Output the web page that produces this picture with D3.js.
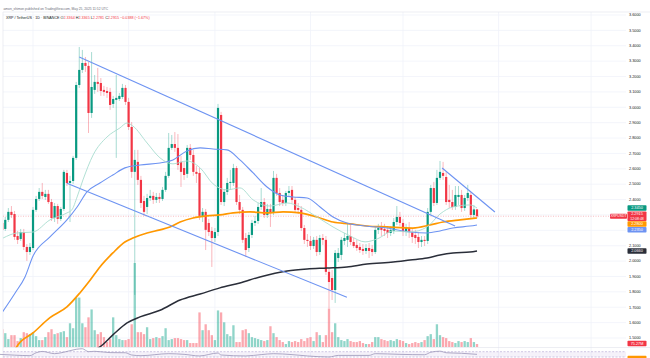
<!DOCTYPE html>
<html>
<head>
<meta charset="utf-8">
<script src="https://cdn.jsdelivr.net/npm/d3@7"></script>
<style>
  html, body { margin: 0; padding: 0; background: #fff; }
  svg { display: block; font-family: "Liberation Sans", Arial, sans-serif; }
</style>
</head>
<body>
<div id="chart"></div>
<script>
// XRP / TetherUS daily, 2024-12-21 .. 2025-05-25
const startDate = "2024-12-21";

const openP = [2.280,2.248,2.209,2.268,2.320,2.306,2.163,2.144,2.189,2.092,
  2.059,2.085,2.333,2.404,2.450,2.417,2.437,2.384,2.280,2.358,
  2.274,2.339,2.573,2.508,2.521,2.671,3.145,3.243,3.288,3.269,
  2.963,3.113,3.165,3.158,3.113,3.106,3.100,3.022,3.048,3.054,
  3.067,3.126,3.035,2.872,2.580,2.645,2.528,2.391,2.352,2.410,
  2.424,2.398,2.417,2.404,2.463,2.554,2.736,2.761,2.736,2.645,
  2.605,2.567,2.736,2.690,2.580,2.573,2.294,2.320,2.248,2.196,
  2.150,2.189,2.950,2.384,2.450,2.508,2.508,2.605,2.384,2.333,
  2.150,2.085,2.170,2.248,2.261,2.352,2.384,2.300,2.339,2.313,
  2.541,2.443,2.398,2.378,2.443,2.463,2.398,2.345,2.333,2.215,
  2.138,2.131,2.098,2.138,2.059,2.150,2.138,1.930,1.890,1.812,
  2.020,2.040,2.131,2.138,2.163,2.124,2.105,2.092,2.079,2.066,
  2.085,2.079,2.059,2.203,2.215,2.209,2.203,2.183,2.196,2.254,
  2.287,2.248,2.189,2.215,2.189,2.170,2.157,2.124,2.138,2.131,
  2.320,2.475,2.378,2.541,2.573,2.547,2.398,2.384,2.352,2.417,
  2.430,2.345,2.410,2.430,2.300,2.3364];

const highP = [2.300,2.274,2.287,2.345,2.358,2.326,2.196,2.209,2.209,2.111,
  2.118,2.352,2.424,2.475,2.508,2.463,2.463,2.404,2.378,2.372,
  2.352,2.593,2.593,2.554,2.684,3.165,3.392,3.373,3.327,3.295,
  3.359,3.210,3.256,3.190,3.139,3.132,3.126,3.074,3.210,3.093,
  3.152,3.145,3.061,2.904,2.723,2.723,2.554,2.424,2.437,2.463,
  2.450,2.443,2.443,2.482,2.580,2.833,2.820,2.839,2.826,2.684,
  2.645,2.755,2.761,2.723,2.618,2.605,2.345,2.339,2.274,2.222,
  2.215,3.022,2.970,2.469,2.541,2.593,2.632,2.618,2.430,2.352,
  2.183,2.189,2.268,2.294,2.378,2.475,2.410,2.372,2.372,2.586,
  2.567,2.475,2.430,2.456,2.488,2.488,2.417,2.378,2.358,2.235,
  2.176,2.163,2.157,2.163,2.170,2.176,2.163,1.955,1.942,2.072,
  2.085,2.157,2.183,2.242,2.242,2.150,2.138,2.118,2.111,2.111,
  2.118,2.105,2.228,2.242,2.254,2.242,2.228,2.228,2.280,2.358,
  2.320,2.274,2.242,2.254,2.215,2.203,2.189,2.163,2.163,2.345,
  2.495,2.515,2.593,2.651,2.645,2.580,2.495,2.463,2.488,2.488,
  2.463,2.430,2.495,2.450,2.365,2.3365];

const lowP = [2.228,2.183,2.196,2.254,2.280,2.138,2.111,2.131,2.072,2.001,
  2.040,2.072,2.320,2.391,2.404,2.398,2.372,2.261,2.254,2.242,
  2.261,2.326,2.488,2.254,2.502,2.658,3.126,3.223,3.230,2.833,
  2.931,3.087,3.100,3.074,3.074,3.061,2.983,2.996,2.671,3.041,
  3.054,3.015,2.852,2.541,1.780,2.495,2.345,2.294,2.306,2.391,
  2.372,2.378,2.378,2.391,2.450,2.541,2.723,2.710,2.593,2.482,
  2.528,2.541,2.658,2.554,2.508,2.268,2.254,2.072,2.163,1.962,
  2.124,2.163,2.365,2.358,2.430,2.463,2.488,2.365,2.306,2.118,
  2.027,2.059,2.150,2.228,2.242,2.333,2.280,2.280,2.222,2.300,
  2.424,2.358,2.358,2.358,2.417,2.378,2.313,2.306,2.196,2.111,
  2.092,2.072,2.079,2.033,2.040,2.105,1.910,1.695,1.747,1.728,
  1.994,2.007,2.105,2.092,2.105,2.085,2.066,2.053,2.040,2.046,
  2.020,2.033,2.046,2.176,2.163,2.163,2.150,2.163,2.176,2.235,
  2.228,2.163,2.163,2.150,2.118,2.111,2.085,2.092,2.098,2.111,
  2.300,2.358,2.365,2.528,2.528,2.365,2.345,2.333,2.333,2.365,
  2.320,2.326,2.391,2.280,2.280,2.2781];

const closeP = [2.248,2.203,2.268,2.320,2.300,2.157,2.138,2.189,2.092,2.059,
  2.092,2.333,2.404,2.450,2.424,2.437,2.384,2.280,2.358,2.274,
  2.339,2.580,2.508,2.521,2.671,3.145,3.243,3.288,3.269,2.963,
  3.132,3.165,3.152,3.106,3.100,3.093,3.015,3.054,3.061,3.074,
  3.126,3.035,2.872,2.580,2.658,2.528,2.378,2.320,2.410,2.424,
  2.398,2.417,2.404,2.463,2.554,2.736,2.761,2.736,2.625,2.580,
  2.560,2.736,2.690,2.580,2.567,2.294,2.320,2.203,2.189,2.150,
  2.189,2.996,2.384,2.450,2.508,2.515,2.605,2.384,2.333,2.138,
  2.072,2.170,2.248,2.261,2.352,2.384,2.300,2.339,2.313,2.541,
  2.443,2.384,2.378,2.443,2.456,2.398,2.333,2.333,2.215,2.138,
  2.131,2.098,2.138,2.059,2.150,2.138,1.930,1.864,1.812,2.053,
  2.053,2.138,2.150,2.163,2.124,2.098,2.085,2.072,2.066,2.085,
  2.066,2.059,2.203,2.215,2.203,2.196,2.183,2.203,2.254,2.287,
  2.248,2.189,2.215,2.189,2.157,2.150,2.124,2.138,2.131,2.320,
  2.475,2.378,2.541,2.580,2.554,2.384,2.384,2.352,2.430,2.430,
  2.345,2.410,2.443,2.300,2.336,2.2915];

// volume in millions of XRP
const volumeM = [300,450,350,200,300,300,150,225,375,350,
  325,375,275,175,175,250,375,450,325,350,
  375,400,250,600,475,1250,1250,600,500,750,
  950,425,325,375,250,125,200,750,300,200,
  175,175,200,575,2125,375,375,325,500,200,
  225,250,225,275,475,175,200,225,225,200,
  175,175,100,100,100,875,425,575,425,300,
  175,925,875,625,325,275,550,125,125,425,
  450,350,250,225,200,175,150,175,525,350,
  250,175,125,75,150,125,150,125,200,150,
  225,250,150,375,300,125,300,975,375,600,
  250,175,150,200,150,125,125,150,100,75,
  75,125,250,250,200,175,150,175,150,200,
  175,150,100,75,100,125,100,125,175,275,
  325,200,575,300,250,225,150,125,100,150,
  125,150,125,225,125,75.27];

// moving averages: [day index, price]
const ma20 = [[1.3,2.150],[5.8,2.183],[11,2.189],[16.5,2.268],[22,2.313],[23.6,2.333],
  [25.3,2.417],[27.2,2.528],[30.5,2.690],[35,2.807],[39.2,2.866],[41.5,2.898],
  [43.4,2.878],[48,2.768],[52.2,2.671],[56.4,2.632],[60.9,2.651],[65.2,2.606],
  [69.4,2.502],[73.9,2.463],[78.1,2.476],[82.4,2.398],[87.9,2.358],[93.4,2.378],
  [97.6,2.352],[103.1,2.287],[108.3,2.222],[113.8,2.164],[118.7,2.125],[122.6,2.144],
  [127.8,2.196],[133.3,2.189],[138.8,2.222],[143,2.306],[147.2,2.352],[152.7,2.365],[155,2.345]];
const ma50 = [[0,1.637],[5.2,1.793],[8.4,1.897],[11,2.033],[16.5,2.157],[22,2.268],
  [25.3,2.352],[28.5,2.450],[32.7,2.508],[36.9,2.560],[40.8,2.606],[45.7,2.625],
  [52.2,2.638],[56.4,2.658],[60.9,2.716],[65.2,2.736],[69.4,2.729],[73.9,2.723],
  [78.1,2.658],[82.4,2.573],[86.9,2.482],[91.1,2.430],[95.3,2.417],[99.9,2.410],
  [104.1,2.352],[108.3,2.287],[112.8,2.248],[118.7,2.228],[125.8,2.215],[133.3,2.189],
  [138.8,2.183],[143,2.196],[147.2,2.215],[152.7,2.228],[155,2.235]];
const ma100 = [[5.1,1.422],[6.1,1.455],[11,1.533],[16.5,1.632],[22,1.702],[26.2,1.793],
  [29.5,1.875],[32.7,1.962],[36.9,2.053],[40.8,2.124],[43.4,2.150],[48,2.183],
  [52.2,2.203],[55.4,2.222],[58.7,2.254],[62.9,2.280],[67.4,2.294],[71.6,2.300],
  [75.9,2.313],[81.4,2.320],[86.9,2.313],[92.1,2.320],[97.6,2.313],[103.1,2.287],
  [108.3,2.254],[113.8,2.242],[119.3,2.228],[125.8,2.222],[134.2,2.215],[139.8,2.235],
  [144,2.254],[149.5,2.268],[155,2.280]];
const ma200 = [[31.1,1.422],[32.7,1.442],[36.9,1.520],[41.5,1.598],[45.7,1.637],[52.2,1.680],
  [58.7,1.747],[65.2,1.786],[71.6,1.826],[78.1,1.858],[84.6,1.897],[93.4,1.936],
  [99.9,1.949],[106.4,1.955],[112.8,1.962],[119.3,1.981],[127.8,1.994],[133.3,2.007],
  [138.8,2.020],[143,2.040],[147.2,2.053],[152.7,2.059],[155,2.066]];

// RSI(14): [day index, value]
const rsi = [[0,50],[5,44],[10,40],[12,62],[14,72],[18,55],[21,66],[25,88],[27,92],
  [29,70],[31,73],[36,63],[41,62],[43,45],[46,40],[55,55],[60,50],[65,38],[71,60],
  [72,45],[80,38],[85,48],[89,55],[95,48],[100,38],[107,30],[110,42],[120,42],
  [122,55],[130,50],[138,47],[140,66],[143,74],[145,62],[150,58],[155,50]];

// hand-drawn trend lines: [[index, price], [index, price]]
const trendLines = [
  [[26, 3.327], [147.9, 2.228]],
  [[22, 2.5055], [112.8, 1.7645]],
  [[143.7, 2.6055], [160.8, 2.3195]]
];

const priceTicks = [1.5,1.6,1.7,1.8,1.9,2.0,2.1,2.2,2.3,2.4,2.5,2.6,2.7,2.8,2.9,3.0,3.1,3.2,3.3,3.4,3.5,3.6];

const headerText = "amon_shimon published on TradingView.com, May 25, 2025 11:52 UTC";
const symbolText = "XRP / TetherUS · 1D · BINANCE";
const ohlcLabels = ["O", "H", "L", "C"];
const changeText = "\u22120.0388 (\u22121.67%)";
const countdown = "12:08:48";

const UP = "#089981", DN = "#f23645";
const W = 650, H = 358;
const paneL = 3, paneR = 626, paneT = 12, paneB = 347.5;

const svg = d3.select("#chart").append("svg")
  .attr("width", W).attr("height", H);

svg.append("defs").append("clipPath").attr("id", "pane")
  .append("rect").attr("x", paneL).attr("y", paneT)
  .attr("width", paneR - paneL).attr("height", paneB - paneT);

// scales
const x = d3.scaleLinear().domain([0, 155]).range([-0.9, 477]);
const y = d3.scaleLinear().domain([1.5, 3.6]).range([338, 15]);
const vy = d3.scaleLinear().domain([0, 2150]).range([347, 262]);
const ry = d3.scaleLinear().domain([0, 100]).range([361, 347.7]);

const start = new Date(startDate + "T00:00:00Z");
const monthTicks = d3.utcMonth.range(new Date("2025-01-01T00:00:00Z"), new Date("2025-07-02T00:00:00Z"))
  .map(d => d3.utcDay.count(start, d));

// grid
const grid = svg.append("g");
grid.selectAll(".hg").data(priceTicks).join("line")
  .attr("x1", paneL).attr("x2", paneR)
  .attr("y1", d => y(d)).attr("y2", d => y(d))
  .attr("stroke", "#f0f3fa").attr("stroke-width", 0.8);
grid.selectAll(".vg").data(monthTicks).join("line")
  .attr("x1", d => x(d)).attr("x2", d => x(d))
  .attr("y1", paneT).attr("y2", H)
  .attr("stroke", "#f0f3fa").attr("stroke-width", 0.8);

// frame
svg.append("line").attr("x1", paneL).attr("x2", W).attr("y1", paneT).attr("y2", paneT)
  .attr("stroke", "#e0e3eb").attr("stroke-width", 0.6);
svg.append("line").attr("x1", paneL).attr("x2", paneL).attr("y1", paneT).attr("y2", H)
  .attr("stroke", "#e0e3eb").attr("stroke-width", 0.6);

const plot = svg.append("g").attr("clip-path", "url(#pane)");

// volume
plot.selectAll(".vol").data(volumeM).join("rect")
  .attr("x", (d, i) => x(i) - 1.15)
  .attr("width", 2.3)
  .attr("y", d => vy(d))
  .attr("height", d => vy(0) - vy(d))
  .attr("fill", (d, i) => closeP[i] >= openP[i] ? "rgba(34,171,148,0.5)" : "rgba(247,82,95,0.5)");

// last price line
plot.append("line")
  .attr("x1", paneL).attr("x2", paneR)
  .attr("y1", y(closeP[155])).attr("y2", y(closeP[155]))
  .attr("stroke", DN).attr("stroke-opacity", 0.45)
  .attr("stroke-width", 0.7).attr("stroke-dasharray", "1,1.5");

// candles
const isUp = i => closeP[i] >= openP[i];
plot.selectAll(".wick").data(openP).join("line")
  .attr("x1", (d, i) => x(i)).attr("x2", (d, i) => x(i))
  .attr("y1", (d, i) => y(highP[i])).attr("y2", (d, i) => y(lowP[i]))
  .attr("stroke", (d, i) => isUp(i) ? UP : DN)
  .attr("stroke-opacity", 0.45)
  .attr("stroke-width", 0.8);
plot.selectAll(".body").data(openP).join("rect")
  .attr("x", (d, i) => x(i) - 1.1)
  .attr("width", 2.2)
  .attr("y", (d, i) => y(Math.max(openP[i], closeP[i])))
  .attr("height", (d, i) => Math.max(0.8, Math.abs(y(openP[i]) - y(closeP[i]))))
  .attr("fill", (d, i) => isUp(i) ? UP : DN);

// moving averages
const line = d3.line().x(d => x(d[0])).y(d => y(d[1])).curve(d3.curveMonotoneX);
const maStyles = [
  { data: ma200, color: "#2a2e39", width: 1.5 },
  { data: ma100, color: "#ff9800", width: 1.7 },
  { data: ma50, color: "#6d93f2", width: 1.1 },
  { data: ma20, color: "#a8dccf", width: 0.9 }
];
maStyles.forEach(m => {
  plot.append("path").datum(m.data)
    .attr("d", line)
    .attr("fill", "none")
    .attr("stroke", m.color)
    .attr("stroke-width", m.width);
});

// trend lines
plot.selectAll(".trend").data(trendLines).join("line")
  .attr("x1", d => x(d[0][0])).attr("y1", d => y(d[0][1]))
  .attr("x2", d => x(d[1][0])).attr("y2", d => y(d[1][1]))
  .attr("stroke", "#6d93f2").attr("stroke-width", 1.1);

// RSI pane
svg.append("line").attr("x1", paneL).attr("x2", W).attr("y1", paneB).attr("y2", paneB)
  .attr("stroke", "#e0e3eb").attr("stroke-width", 0.6);
svg.append("rect").attr("x", paneL).attr("width", paneR - paneL)
  .attr("y", ry(70)).attr("height", ry(30) - ry(70))
  .attr("fill", "rgba(126,87,194,0.08)");
[70, 30].forEach(v => {
  svg.append("line").attr("x1", paneL).attr("x2", paneR)
    .attr("y1", ry(v)).attr("y2", ry(v))
    .attr("stroke", "#b2a4d4").attr("stroke-width", 0.6)
    .attr("stroke-dasharray", "2,1.5");
});
svg.append("path").datum(rsi)
  .attr("d", d3.line().x(d => x(d[0])).y(d => ry(d[1])).curve(d3.curveMonotoneX))
  .attr("fill", "none").attr("stroke", "#9b95b8").attr("stroke-width", 0.8);

// price axis labels
const lastClose = closeP[155];
const tags = [
  { v: ma20[ma20.length - 1][1], bg: "#089981", h: 5.5 },
  { v: lastClose, bg: DN, h: 9.5, main: true },
  { v: ma100[ma100.length - 1][1], bg: "#ff9800", h: 5.5 },
  { v: ma50[ma50.length - 1][1], bg: "#6d93f2", h: 5.5 },
  { v: ma200[ma200.length - 1][1], bg: "#2a2e39", h: 5.5 }
];
tags.forEach(t => t.y = y(t.v));
const mainTag = tags.find(t => t.main);
const above = tags.filter(t => !t.main && t.y <= mainTag.y).sort((a, b) => b.y - a.y);
const below = tags.filter(t => !t.main && t.y > mainTag.y).sort((a, b) => a.y - b.y);
let edge = mainTag.y - mainTag.h / 2;
above.forEach(t => { t.y = Math.min(t.y, edge - t.h / 2 - 0.3); edge = t.y - t.h / 2; });
edge = mainTag.y + mainTag.h / 2;
below.forEach(t => { t.y = Math.max(t.y, edge + t.h / 2 + 0.3); edge = t.y + t.h / 2; });

const axisG = svg.append("g");
axisG.selectAll("text").data(priceTicks.filter(p => tags.every(t => Math.abs(y(p) - t.y) > t.h / 2 + 2)))
  .join("text")
  .attr("x", 629).attr("y", d => y(d) + 1.3)
  .attr("font-size", 3.8).attr("fill", "#131722")
  .text(d => d.toFixed(4));

const tagG = svg.append("g");
tags.forEach(t => {
  tagG.append("rect").attr("x", 627.5).attr("y", t.y - t.h / 2)
    .attr("width", 19).attr("height", t.h).attr("rx", 0.8).attr("fill", t.bg);
  if (t.main) {
    tagG.append("text").attr("x", 637).attr("y", t.y - 0.8).attr("text-anchor", "middle")
      .attr("font-size", 3.8).attr("fill", "#fff").text(t.v.toFixed(4));
    tagG.append("text").attr("x", 637).attr("y", t.y + 3.4).attr("text-anchor", "middle")
      .attr("font-size", 3.5).attr("fill", "#fff").text(countdown);
  } else {
    tagG.append("text").attr("x", 637).attr("y", t.y + 1.3).attr("text-anchor", "middle")
      .attr("font-size", 3.8).attr("fill", "#fff").text(t.v.toFixed(4));
  }
});
// symbol label next to the last price
tagG.append("rect").attr("x", 610).attr("y", mainTag.y - 2.6).attr("width", 17).attr("height", 5.2)
  .attr("rx", 0.8).attr("fill", DN);
tagG.append("text").attr("x", 618.5).attr("y", mainTag.y + 1.2).attr("text-anchor", "middle")
  .attr("font-size", 3.4).attr("fill", "#fff").text("XRPUSDT");
// volume tag
const lastVol = volumeM[155];
tagG.append("rect").attr("x", 627.5).attr("y", vy(lastVol) - 3.2).attr("width", 19).attr("height", 5.5)
  .attr("rx", 0.8).attr("fill", DN);
tagG.append("text").attr("x", 637).attr("y", vy(lastVol) + 0.9).attr("text-anchor", "middle")
  .attr("font-size", 3.8).attr("fill", "#fff").text(lastVol.toFixed(2) + "M");
// rsi tag
const lastRsi = rsi[rsi.length - 1][1];
tagG.append("rect").attr("x", 627.5).attr("y", ry(lastRsi) + 1.5).attr("width", 19).attr("height", 5.5)
  .attr("rx", 0.8).attr("fill", "#ff9800");

// header
svg.append("text").attr("x", 3.5).attr("y", 9.5)
  .attr("font-size", 3.3).attr("fill", "#6a6d78").text(headerText);
const legend = svg.append("text").attr("x", 6).attr("y", 18.5).attr("font-size", 3.7).attr("fill", "#131722");
legend.append("tspan").text(symbolText + "   ");
const ohlcVals = [openP[155], highP[155], lowP[155], closeP[155]];
ohlcLabels.forEach((lab, k) => {
  legend.append("tspan").attr("fill", "#131722").text(lab);
  legend.append("tspan").attr("fill", DN).text(ohlcVals[k].toFixed(4) + " ");
});
legend.append("tspan").attr("fill", DN).text(changeText);
</script>
</body>
</html>
